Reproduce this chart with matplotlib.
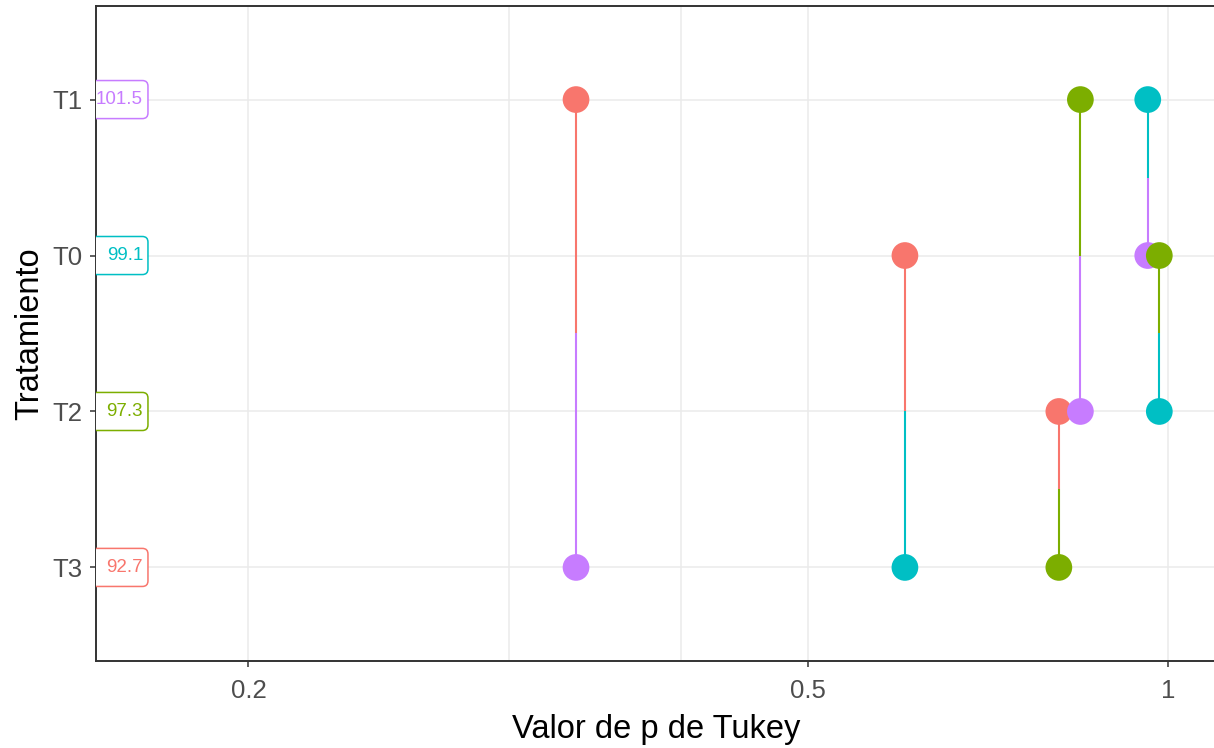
import numpy as np
import matplotlib.pyplot as plt
from matplotlib.patches import FancyBboxPatch

plt.rcParams["font.family"] = ["Liberation Sans", "DejaVu Sans"]

# treatments from bottom to top, with their means and colours
treatments = ["T3", "T2", "T0", "T1"]
means = [92.7, 97.3, 99.1, 101.5]
colors = ["#F8766D", "#7CAE00", "#00BFC4", "#C77CFF"]

# Tukey pairwise comparisons
comp_a = ["T1", "T0", "T2", "T1", "T1", "T0"]
comp_b = ["T3", "T3", "T3", "T2", "T0", "T2"]
p_adj = [0.335, 0.597, 0.802, 0.837, 0.959, 0.982]

xticks = [0.2, 0.5, 1]
xtick_labels = ["0.2", "0.5", "1"]
xminor = [0.3, 0.4]

pos = {t: i + 1 for i, t in enumerate(treatments)}
col = dict(zip(treatments, colors))


def fwd(x):
    x = np.clip(np.asarray(x, dtype=float), 1e-6, None)
    return -np.power(x, -0.2)


def inv(t):
    t = np.clip(np.asarray(t, dtype=float), None, -1e-6)
    return np.power(-t, -5.0)


fig = plt.figure(figsize=(12.14, 7.48), dpi=100)
ax = fig.add_axes([96 / 1214, 87 / 748, 1120 / 1214, 655 / 748])
ax.set_xscale("function", functions=(fwd, inv))
ax.set_xlim(0.16, 1.105)
ax.set_ylim(0.4, 4.6)

# each comparison: half segment + point per side, coloured by the other treatment
for a, b, p in zip(comp_a, comp_b, p_adj):
    ya, yb = pos[a], pos[b]
    mid = (ya + yb) / 2
    ax.plot([p, p], [ya, mid], color=col[b], lw=1.5, zorder=3,
            solid_capstyle="butt")
    ax.plot([p, p], [yb, mid], color=col[a], lw=1.5, zorder=3,
            solid_capstyle="butt")
    ax.scatter([p], [ya], s=370, color=col[b], edgecolors="none", zorder=4)
    ax.scatter([p], [yb], s=370, color=col[a], edgecolors="none", zorder=4)

# mean labels sitting on the left edge of the panel (x in axes units)
trans = ax.get_yaxis_transform()
box_half = 0.122
for t, m, c in zip(treatments, means, colors):
    box = FancyBboxPatch((-0.01, pos[t] - box_half), 0.0564, 2 * box_half,
                         boxstyle="round,pad=0,rounding_size=0.005",
                         mutation_aspect=7.2, transform=trans,
                         facecolor="white", edgecolor=c, linewidth=1.1,
                         zorder=5)
    ax.add_patch(box)
    ax.text(0.042, pos[t], f"{m:.1f}", transform=trans,
            ha="right", va="center", fontsize=13.5, color=c, zorder=6,
            clip_on=True)

ax.set_xticks(xticks)
ax.set_xticklabels(xtick_labels)
ax.set_xticks(xminor, minor=True)
ax.set_yticks([pos[t] for t in treatments])
ax.set_yticklabels(treatments)

ax.grid(True, which="major", color="#EBEBEB", lw=1.1, zorder=0)
ax.grid(True, which="minor", axis="x", color="#EBEBEB", lw=1.1, zorder=0)
ax.set_axisbelow(True)

ax.tick_params(which="major", length=4, width=1.1, color="#333333",
               labelcolor="#4D4D4D", labelsize=18.5)
ax.tick_params(axis="x", which="major", pad=9)
ax.tick_params(axis="y", which="major", pad=5.5)
ax.tick_params(which="minor", length=0)
for s in ax.spines.values():
    s.set_color("#333333")
    s.set_linewidth(1.4)

ax.set_xlabel("Valor de p de Tukey", fontsize=23.5, labelpad=8)
ax.set_ylabel("Tratamiento", fontsize=23.5, labelpad=5)

fig.savefig("out.png", dpi=100)
